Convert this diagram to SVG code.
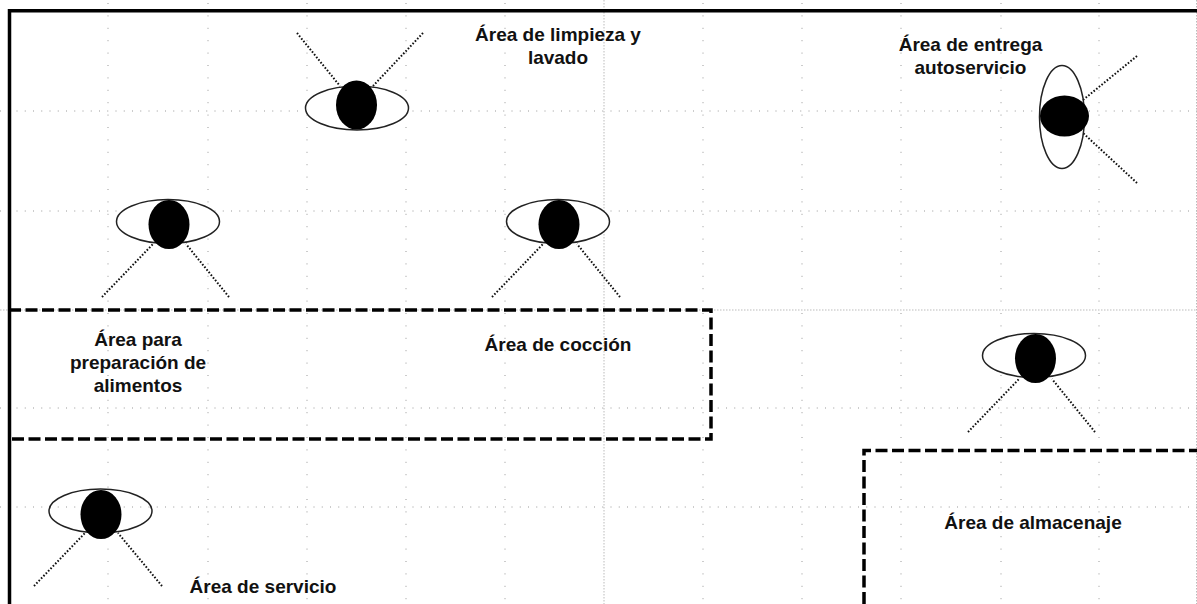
<svg xmlns="http://www.w3.org/2000/svg" width="1197" height="604" viewBox="0 0 1197 604">
<style>
.gv{stroke:#999;stroke-width:1;stroke-dasharray:1 11.4;fill:none}
.gh{stroke:#999;stroke-width:1;stroke-dasharray:1 7.25;fill:none}
.gd{stroke:#bbb;stroke-width:1;stroke-dasharray:1.5 1.5;fill:none}
.wall{stroke:#000;stroke-width:3.5;fill:none}
.dash{stroke:#000;stroke-width:3.5;fill:none;stroke-dasharray:12 4.5}
.ring{fill:#fff;stroke:#222;stroke-width:1.5}
.open{fill:none}
.pupil{fill:#000}
.ray{stroke:#111;stroke-width:2;stroke-dasharray:1.6 1.8;fill:none}
text{font-family:"Liberation Sans",Arial,sans-serif;font-weight:bold;font-size:19px;fill:#111;text-anchor:middle}
</style>
<rect width="1197" height="604" fill="#fff"/>
<g id="grid">
<path class="gv" d="M108 3V604M208 3V604M307 3V604M406 3V604M505 3V604M703 3V604M802 3V604M901 3V604M1001 3V604M1099 3V604"/>
<path class="gh" d="M0 111H1197M0 211H1197M0 408H1197M0 507H1197"/>
<path class="gd" d="M604 0V604M0 310H1197M1196.500 0V604"/>
</g>
<g id="walls">
<path class="wall" d="M9.500 604V10.700H1197"/>
<path class="dash" d="M9 310H711V439H9"/>
<path class="dash" d="M864 604V450.500H1197"/>
</g>
<g id="connectors">
<path class="ray" d="M297 33L340 86M423 33L373 86"/>
<path class="ray" d="M102 297L153 244M229 297L186 244"/>
<path class="ray" d="M492 297L543 244M620 297L577 244"/>
<path class="ray" d="M968 432L1019 379M1095 432L1052 379"/>
<path class="ray" d="M34 586L85 533M162 586L118 533"/>
<path class="ray" d="M1137 56L1083 100M1137 183L1083 133"/>
</g>
<g id="eye-limpieza"><ellipse class="ring" cx="357" cy="108" rx="51.500" ry="22"/><ellipse class="pupil" cx="356.500" cy="105" rx="20.500" ry="24.500"/></g>
<g id="eye-preparacion"><ellipse class="ring" cx="168" cy="221.500" rx="51.500" ry="22"/><ellipse class="pupil" cx="169" cy="224.500" rx="20.500" ry="24.500"/></g>
<g id="eye-coccion"><ellipse class="ring" cx="558" cy="221.500" rx="51.500" ry="22"/><ellipse class="pupil" cx="559" cy="224.500" rx="20.500" ry="24.500"/></g>
<g id="eye-almacenaje"><ellipse class="ring" cx="1034" cy="355.500" rx="51.500" ry="22"/><ellipse class="pupil" cx="1035.500" cy="358.500" rx="20.500" ry="24.500"/></g>
<g id="eye-servicio"><ellipse class="ring open" cx="100.500" cy="511" rx="51.500" ry="22"/><ellipse class="pupil" cx="101" cy="514.500" rx="20.500" ry="24.500"/></g>
<g id="eye-entrega"><ellipse class="ring open" cx="1062" cy="117" rx="22.500" ry="51.500"/><ellipse class="pupil" cx="1064.500" cy="116" rx="24.500" ry="20.500"/></g>
<g id="label-limpieza"><text x="558" y="41">Área de limpieza y</text><text x="558" y="64">lavado</text></g>
<g id="label-entrega"><text x="970.500" y="51">Área de entrega</text><text x="970.500" y="74">autoservicio</text></g>
<g id="label-preparacion"><text x="138" y="346">Área para</text><text x="138" y="369">preparación de</text><text x="138" y="392">alimentos</text></g>
<g id="label-coccion"><text x="558" y="351">Área de cocción</text></g>
<g id="label-almacenaje"><text x="1033" y="529">Área de almacenaje</text></g>
<g id="label-servicio"><text x="263" y="593">Área de servicio</text></g>
</svg>
